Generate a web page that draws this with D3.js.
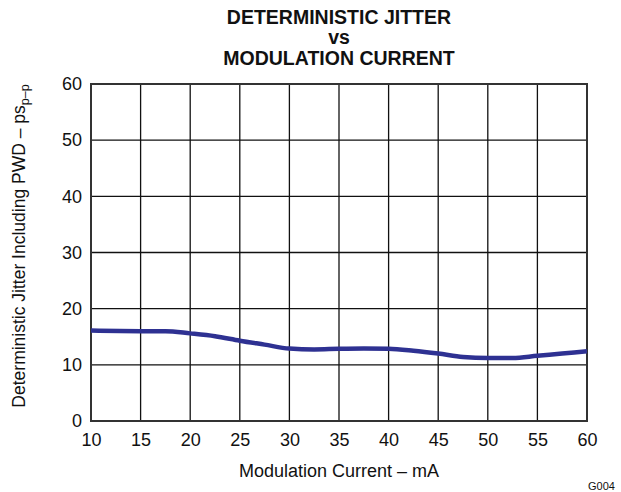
<!DOCTYPE html>
<html>
<head>
<meta charset="utf-8">
<script src="https://cdn.jsdelivr.net/npm/d3@7/dist/d3.min.js"></script>
<style>
  html, body { margin: 0; padding: 0; background: #fff; }
  svg { display: block; }
  text { font-family: "Liberation Sans", Arial, Helvetica, sans-serif; fill: #111; }
</style>
</head>
<body>
<svg id="chart" width="621" height="492"></svg>
<script>
// Data
const current = [10, 15, 17.5, 20, 22.5, 25, 27.5, 30, 32.5, 35, 37.5, 40, 42.5, 45, 47.5, 50, 52.5, 55, 57.5, 60];
const jitter  = [16.1, 16.0, 16.0, 15.6, 15.1, 14.3, 13.6, 12.9, 12.75, 12.85, 12.9, 12.85, 12.5, 12.0, 11.4, 11.2, 11.2, 11.6, 12.0, 12.4];
const xTicks = [10, 15, 20, 25, 30, 35, 40, 45, 50, 55, 60];
const yTicks = [0, 10, 20, 30, 40, 50, 60];
const titleLines = ["DETERMINISTIC JITTER", "vs", "MODULATION CURRENT"];

const svg = d3.select("#chart");
const mLeft = 91, mRight = 587, mTop = 84, mBottom = 421;

const x = d3.scaleLinear().domain([10, 60]).range([mLeft, mRight]);
const y = d3.scaleLinear().domain([0, 60]).range([mBottom, mTop]);

// Grid lines
svg.append("g").selectAll("line").data(xTicks.slice(1, -1)).join("line")
  .attr("x1", d => x(d)).attr("x2", d => x(d))
  .attr("y1", mTop).attr("y2", mBottom)
  .attr("stroke", "#111").attr("stroke-width", 1.3);
svg.append("g").selectAll("line").data(yTicks.slice(1, -1)).join("line")
  .attr("x1", mLeft).attr("x2", mRight)
  .attr("y1", d => y(d)).attr("y2", d => y(d))
  .attr("stroke", "#111").attr("stroke-width", 1.3);

// Frame
svg.append("rect")
  .attr("x", mLeft).attr("y", mTop)
  .attr("width", mRight - mLeft).attr("height", mBottom - mTop)
  .attr("fill", "none").attr("stroke", "#333").attr("stroke-width", 2);

// Axes labels using d3 axes (no domain/tick lines)
const xAxis = svg.append("g")
  .attr("transform", `translate(0,${mBottom})`)
  .call(d3.axisBottom(x).tickValues(xTicks).tickSize(0).tickPadding(12));
xAxis.select(".domain").remove();
xAxis.selectAll("text").attr("font-size", 18).attr("fill", "#111")
  .style("font-family", '"Liberation Sans", Arial, sans-serif');

const yAxis = svg.append("g")
  .attr("transform", `translate(${mLeft},0)`)
  .call(d3.axisLeft(y).tickValues(yTicks).tickSize(0).tickPadding(9));
yAxis.select(".domain").remove();
yAxis.selectAll("text").attr("font-size", 18).attr("fill", "#111")
  .style("font-family", '"Liberation Sans", Arial, sans-serif');

// Curve
const line = d3.line()
  .x((d, i) => x(current[i]))
  .y(d => y(d))
  .curve(d3.curveMonotoneX);
svg.append("path")
  .datum(jitter)
  .attr("d", line)
  .attr("fill", "none")
  .attr("stroke", "#2e3192")
  .attr("stroke-width", 4.5)
  .attr("stroke-linejoin", "round");

// Title
svg.append("g").selectAll("text").data(titleLines).join("text")
  .attr("x", 339)
  .attr("y", (d, i) => 23.5 + i * 20.8)
  .attr("text-anchor", "middle")
  .attr("font-size", 19.5)
  .attr("font-weight", "bold")
  .text(d => d);

// X label
svg.append("text")
  .attr("x", 339).attr("y", 477)
  .attr("text-anchor", "middle")
  .attr("font-size", 18)
  .text("Modulation Current – mA");

// Y label with subscript
const yl = svg.append("text")
  .attr("transform", `translate(25,246) rotate(-90)`)
  .attr("text-anchor", "middle")
  .attr("font-size", 17.5);
yl.append("tspan").text("Deterministic Jitter Including PWD – ps");
yl.append("tspan").attr("dy", 4).attr("font-size", 12.5).text("p–p");

// Figure id
svg.append("text")
  .attr("x", 588).attr("y", 490)
  .attr("font-size", 11)
  .text("G004");
</script>
</body>
</html>
